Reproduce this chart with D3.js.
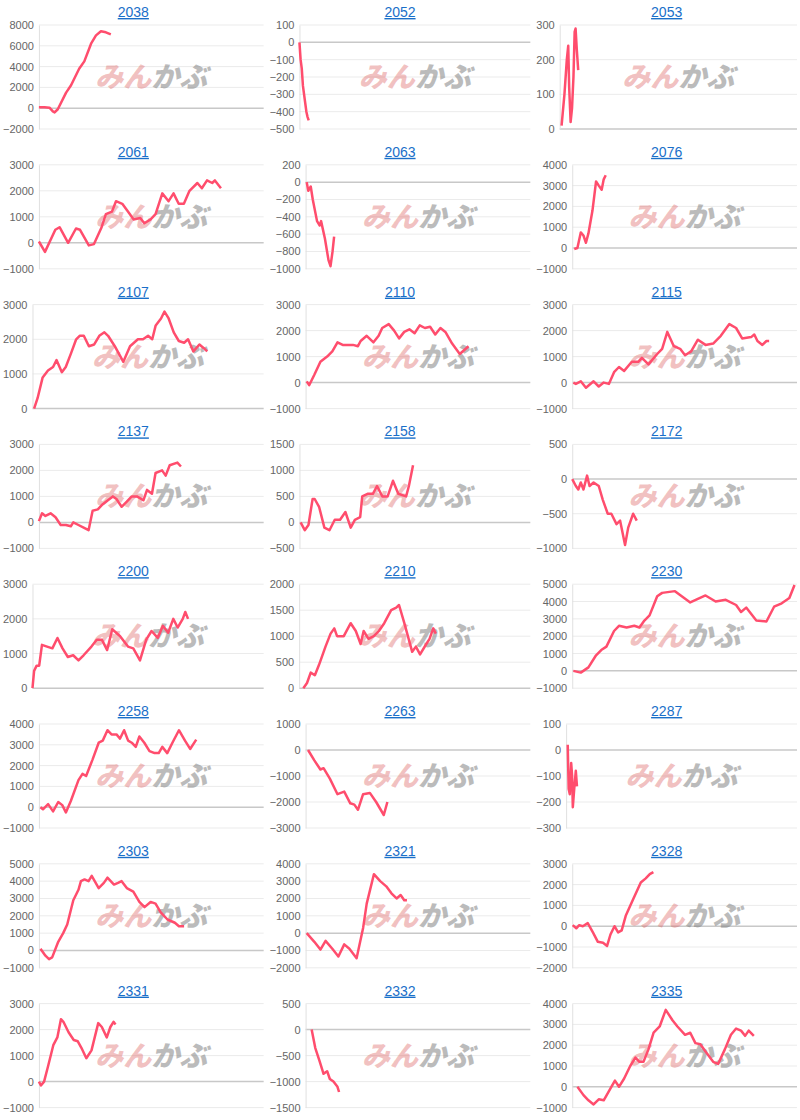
<!DOCTYPE html>
<html><head><meta charset="utf-8">
<script src="https://cdnjs.cloudflare.com/ajax/libs/d3/7.8.5/d3.min.js"></script>
<style>body{margin:0;background:#fff;}svg{display:block;}</style>
</head><body>
<svg id="c" width="800" height="1120"></svg>
<script>
const titles = ["2038","2052","2053","2061","2063","2076","2107","2110","2115","2137","2158","2172","2200","2210","2230","2258","2263","2287","2303","2321","2328","2331","2332","2335"];
const ticks = [
 [-2000,0,2000,4000,6000,8000],[-500,-400,-300,-200,-100,0,100],[0,100,200,300],
 [-1000,0,1000,2000,3000],[-1000,-800,-600,-400,-200,0,200],[-1000,0,1000,2000,3000,4000],
 [0,1000,2000,3000],[-1000,0,1000,2000,3000],[-1000,0,1000,2000,3000],
 [-1000,0,1000,2000,3000],[-500,0,500,1000,1500],[-1000,-500,0,500],
 [0,1000,2000,3000],[0,500,1000,1500,2000],[-1000,0,1000,2000,3000,4000,5000],
 [-1000,0,1000,2000,3000,4000],[-3000,-2000,-1000,0,1000],[-300,-200,-100,0,100],
 [-1000,0,1000,2000,3000,4000,5000],[-2000,-1000,0,1000,2000,3000,4000],[-2000,-1000,0,1000,2000,3000],
 [-1000,0,1000,2000,3000],[-1500,-1000,-500,0,500],[-1000,0,1000,2000,3000,4000]
];
// each series: [progress %, value]
const s2038=[[0,100],[2.5,100],[4.7,50],[6.2,-300],[7,-400],[8.4,-100],[12.1,1500],[14.3,2200],[17.9,3800],[20.2,4500],[23.2,6200],[25.4,7000],[27.6,7400],[29.8,7300],[32,7100]];
const s2052=[[0,0],[0.5,-100],[1,-150],[1.5,-250],[2,-300],[2.5,-350],[3,-400],[3.5,-430],[4,-450]];
const s2053=[[0.8,10],[2,100],[3,200],[3.6,240],[4,120],[4.6,20],[5.2,60],[5.8,150],[6.3,280],[6.7,290],[7.2,230],[7.8,170]];
const s2061=[[0,50],[2.7,-350],[7.3,500],[9.2,600],[13,0],[16.5,550],[18.3,500],[22.2,-100],[24.5,-50],[27.9,600],[29.8,1100],[32.5,1200],[34.3,1600],[37.1,1500],[40.5,1100],[42.1,900],[45.1,950],[46.9,750],[49.7,900],[51.9,1100],[54.9,1900],[57.7,1600],[59.9,1900],[62.2,1500],[64.5,1500],[67,2000],[70.5,2300],[72.5,2100],[74.8,2400],[77.1,2300],[78.3,2400],[81,2100]];
const s2063=[[0.5,0],[1.2,-100],[2.3,-50],[3.2,-200],[5.1,-450],[6.3,-500],[6.9,-450],[8.6,-650],[10.2,-900],[11.1,-970],[12,-800],[12.7,-630]];
const s2076=[[0.9,-50],[2.3,0],[3.8,750],[5,600],[6.1,250],[7.2,700],[9,1800],[10.6,3200],[11.8,3000],[13.1,2800],[14,3300],[14.9,3500]];
const s2107=[[0.7,0],[2.2,300],[4.4,900],[6.7,1100],[8.9,1200],[10.4,1400],[12.7,1050],[14.4,1200],[16.7,1600],[18.9,2000],[20.4,2100],[22.2,2100],[24.4,1800],[26.7,1850],[28.9,2100],[31.1,2200],[32.7,2100],[35.6,1800],[39.3,1350],[42.2,1800],[45.6,2000],[47.8,2000],[50,2100],[51.8,2000],[53.3,2400],[55.6,2600],[57.1,2800],[58.9,2600],[61.1,2200],[63.3,1950],[65.6,1900],[67.3,2000],[69.6,1650],[72.2,1850],[74,1750],[75.6,1650]];
const s2110=[[0.5,50],[1.6,-100],[3.9,300],[6.6,800],[9.6,1000],[11.9,1200],[14.2,1550],[16.5,1450],[18.8,1450],[21.1,1450],[23.3,1400],[24.5,1600],[27.2,1800],[30.2,1550],[32.5,1800],[34.1,2100],[37,2250],[39.4,2000],[41.6,1700],[43.9,1950],[46.2,2050],[48.5,1900],[50.8,2200],[53.1,2100],[55.4,2150],[57.7,1850],[60,2100],[62.2,1950],[65.2,1500],[68.6,1100],[72.5,1400]];
const s2115=[[0.5,0],[1.6,-50],[3.8,50],[6.1,-200],[9.5,50],[11.8,-150],[14,0],[16.3,-50],[18.6,400],[20.8,600],[23.1,450],[26.5,800],[29.4,800],[31,950],[33.9,700],[37.8,1100],[40,1300],[42.3,1950],[45.2,1400],[48,1300],[50.2,1050],[52.9,1200],[55.9,1650],[59.3,1450],[62.7,1500],[66.1,1800],[69.9,2250],[72.9,2100],[75.6,1700],[79.6,1750],[81,1850],[82.4,1600],[84.6,1450],[86.4,1600],[87.6,1600]];
const s2137=[[0,50],[1.4,350],[2.9,250],[5.2,350],[7.4,200],[9.7,-100],[12,-100],[14.2,-150],[15.3,0],[17.6,-100],[19.9,-200],[22.1,-300],[23.9,450],[26.2,500],[28.4,700],[30.7,850],[32.9,1000],[34.5,900],[36.8,600],[39.1,800],[41.3,1000],[43.6,1000],[46.5,850],[48.1,1250],[50.3,1100],[51.9,1900],[54.8,2000],[56.4,1800],[58.2,2200],[61.6,2300],[63.2,2150]];
const s2158=[[0.5,0],[2.3,-150],[3.9,-50],[5.7,450],[6.6,450],[8.5,300],[10.8,-100],[13,-150],[15.3,50],[17.6,50],[19.9,200],[22.2,-100],[24,50],[26.3,100],[27.2,500],[29.5,550],[31.8,550],[33.6,700],[35.9,500],[38.2,500],[40.5,800],[42.8,550],[46.2,500],[47.4,700],[49.2,1100]];
const s2172=[[0,0],[1.6,-100],[2.7,-150],[3.8,-50],[5,-150],[6.6,50],[7.7,-100],[9.5,-50],[11.8,-100],[13.6,-300],[15.8,-500],[17.4,-500],[19.7,-650],[21.3,-600],[23.5,-950],[24.9,-700],[27.1,-500],[28.7,-600]];
const s2200=[[0,0],[0.7,500],[1.8,650],[2.9,650],[4.1,1250],[6.3,1200],[8.6,1150],[10.8,1450],[13,1150],[15.3,900],[17.6,950],[19.9,800],[22.1,950],[25.5,1200],[27.8,1400],[30,1400],[32.3,1100],[34.5,1700],[37.9,1500],[41.3,1200],[43.6,1150],[46.5,800],[49.2,1400],[51.5,1650],[54.2,1450],[56.4,1800],[58.7,1600],[60.9,2000],[62.8,1750],[65,2000],[66.1,2200],[67.3,2000]];
const s2210=[[1.8,0],[3.4,100],[5,300],[6.8,250],[8.6,450],[11.4,800],[13.6,1050],[15.2,1150],[16.4,1000],[19.3,1000],[22.3,1250],[24.5,1100],[26.6,850],[27.9,1100],[30,950],[32.3,1000],[34.5,1100],[36.8,1250],[39.8,1500],[42,1550],[43.2,1600],[45.5,1250],[48.9,700],[50.5,800],[52.3,650],[55,850],[56.4,950],[58,1150],[59.1,1050]];
const s2230=[[0.5,0],[3.8,-100],[7.2,200],[10.6,900],[12.9,1200],[15.2,1400],[18.6,2300],[20.8,2600],[24.2,2500],[27.6,2600],[29.9,2500],[32.1,2900],[34.4,3200],[37.8,4300],[40,4500],[45.7,4600],[52.5,3950],[59.3,4350],[63.8,4000],[68.3,4100],[72.9,3800],[75.1,3400],[77.4,3650],[81.9,2900],[86.4,2850],[89.8,3700],[93.2,3900],[96.6,4200],[98.9,4950]];
const s2258=[[0.7,0],[1.8,-100],[4.1,150],[6.3,-200],[8.6,250],[10.4,100],[12,-250],[14.2,300],[17.6,1300],[19.4,1600],[21,1500],[23.9,2300],[26.6,3100],[28.4,3200],[30.5,3700],[32.3,3500],[34.5,3500],[36.1,3300],[37.9,3700],[39.7,3200],[41.3,3100],[43.1,2900],[44.7,3400],[46.9,3100],[49.2,2700],[51.5,2600],[53.3,2600],[54.9,2900],[57.1,2600],[59.4,3100],[62.3,3700],[65,3200],[67.3,2800],[70,3250]];
const s2263=[[1.1,0],[3.9,-400],[6.6,-750],[8,-700],[10.8,-1100],[14.2,-1700],[17.2,-1600],[19.9,-2050],[21.7,-2100],[23.3,-2300],[25.6,-1700],[28.6,-1650],[31.4,-2000],[34.8,-2500],[36.4,-2000]];
const s2287=[[0.7,20],[1.1,-150],[1.6,-170],[2.2,-50],[2.6,-100],[2.9,-220],[3.6,-140],[4.2,-80],[4.7,-140]];
const s2303=[[0.7,100],[2.9,-300],[4.5,-500],[5.9,-400],[8.6,500],[10.8,1000],[12.6,1500],[15.3,2900],[17.6,3500],[18.7,4000],[20.3,4100],[22.1,4000],[23.5,4300],[26.6,3600],[28.9,3900],[30.5,4200],[33.4,3800],[35.2,3900],[36.8,4000],[39.1,3600],[42,3400],[44.7,2800],[47,2500],[49.7,2800],[51.9,2700],[54.2,2200],[57.1,1800],[58.7,1700],[60.5,1600],[62.3,1400],[64.6,1400]];
const s2321=[[0.5,0],[3.9,-500],[6.6,-950],[8.9,-450],[11.9,-900],[14.6,-1350],[17.2,-650],[19.5,-900],[22.7,-1450],[25.6,300],[27.2,1700],[30.4,3400],[33.2,3000],[35.9,2700],[38.2,2300],[40.5,2000],[42.3,2200],[43.9,1900],[45.1,1900]];
const s2328=[[0.2,50],[1.8,-100],[3.1,50],[4.7,0],[6.9,150],[9.2,-300],[11.4,-750],[13.7,-800],[15.5,-950],[17,-400],[18.8,0],[20.4,-300],[22,-200],[23.8,500],[27.1,1300],[30.5,2100],[32.7,2300],[34.5,2500],[36.1,2600]];
const s2331=[[0,0],[0.9,-150],[2.3,0],[4.1,600],[6.4,1400],[8.2,1700],[9.8,2400],[10.9,2300],[13.2,1900],[15.5,1600],[17.3,1550],[18.9,1300],[21.1,900],[23.4,1200],[26.4,2250],[28,2100],[30.2,1700],[31.8,2100],[33.2,2300],[34.1,2200]];
const s2332=[[2.7,0],[4.3,-350],[6.2,-600],[8,-850],[9.6,-800],[10.8,-950],[12.4,-1000],[14.2,-1100],[14.9,-1200]];
const s2335=[[2.3,0],[5,-400],[7.2,-650],[9.5,-850],[11.8,-600],[14,-650],[17.4,0],[19,300],[20.8,0],[23.1,400],[25.8,1000],[28.1,1400],[29.9,1200],[31.7,1200],[33.9,1800],[36.2,2600],[38.9,2900],[41.6,3700],[44.6,3200],[46.8,2900],[50.2,2500],[52.5,2600],[54.8,2100],[57,2050],[59.3,1700],[62.7,1200],[64.9,1100],[67.9,1800],[70.6,2500],[72.9,2800],[75.1,2700],[76.9,2450],[78.5,2700],[80.8,2450]];
const series=[s2038,s2052,s2053,s2061,s2063,s2076,s2107,s2110,s2115,s2137,s2158,s2172,s2200,s2210,s2230,s2258,s2263,s2287,s2303,s2321,s2328,s2331,s2332,s2335];

const svg=d3.select("#c");
const colW=800/3, rowH=139.8;
const fmt=d3.format("d");
titles.forEach((t,i)=>{
  const col=i%3,row=Math.floor(i/3);
  const x0=col*colW, y0=row*rowH;
  const g=svg.append("g").attr("transform",`translate(${x0},${y0})`);
  // measure labels
  const tmp=g.append("g").style("font-family","Arial, 'Liberation Sans', sans-serif").style("font-size","11px");
  let w=0; ticks[i].forEach(v=>{const tt=tmp.append("text").text(fmt(v));w=Math.max(w,tt.node().getComputedTextLength());});
  tmp.remove();
  const left=w+8, right=colW-3, top=25, bottom=129;
  const x=d3.scaleLinear().domain([0,100]).range([left,right]);
  const tk=ticks[i];
  const y=d3.scaleLinear().domain([tk[0],tk[tk.length-1]]).range([bottom,top]);
  // grid
  tk.forEach(v=>{
    g.append("line").attr("x1",left).attr("x2",right).attr("y1",y(v)).attr("y2",y(v))
     .attr("stroke",v===0?"#c8c8c8":"#ebebeb").attr("stroke-width",v===0?1.5:1);
  });
  const ax=g.append("g").attr("transform",`translate(${left},0)`)
    .call(d3.axisLeft(y).tickValues(tk).tickFormat(fmt).tickSize(0).tickPadding(5));
  ax.select(".domain").attr("stroke","#e0e0e0");
  ax.selectAll("text").attr("fill","#666").style("font-family","Arial, 'Liberation Sans', sans-serif").style("font-size","11px");
  // watermark
  const cx=(left+right)/2, cy=(top+bottom)/2;
  const wm=g.append("text").attr("x",cx).attr("y",cy+10).attr("text-anchor","middle")
    .style("font-family","'Noto Sans CJK JP', sans-serif").style("font-size","28px").style("font-weight","900").style("font-style","italic");
  wm.append("tspan").attr("fill","rgba(220,90,90,0.38)").text("みん");
  wm.append("tspan").attr("fill","rgba(120,120,120,0.5)").text("かぶ");
  // title
  g.append("text").attr("x",colW/2).attr("y",17).attr("text-anchor","middle")
   .attr("fill","#1a6fc9").attr("text-decoration","underline")
   .style("font-family","Arial, 'Liberation Sans', sans-serif").style("font-size","14px").text(t);
  // line
  g.append("path").datum(series[i]).attr("fill","none").attr("stroke","#ff4d6d").attr("stroke-width",2.5)
   .attr("stroke-linejoin","round")
   .attr("d",d3.line().x(d=>x(d[0])).y(d=>y(d[1])));
});
</script>
</body></html>
